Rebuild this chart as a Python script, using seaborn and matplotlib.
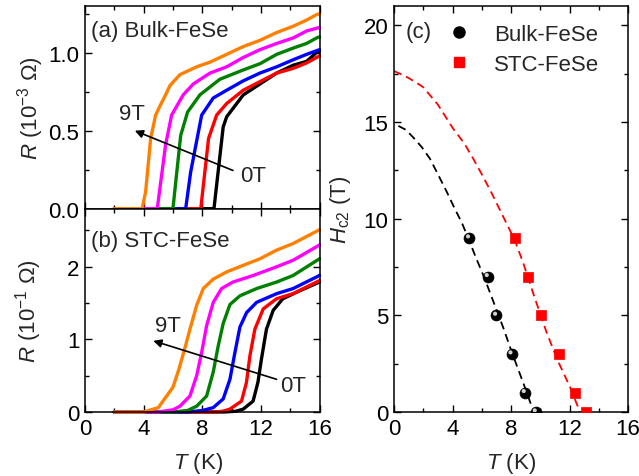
import numpy as np
import pandas as pd
import matplotlib
matplotlib.use("Agg")
import matplotlib.pyplot as plt
import matplotlib.transforms as mtransforms
from matplotlib.lines import Line2D
from matplotlib.ticker import MultipleLocator, FormatStrFormatter
import seaborn as sns

# ---------------- data ----------------
fields = ["0T", "1T", "3T", "5T", "7T", "9T"]
colors = ["#000000", "#FF0000", "#0000FF", "#008000", "#FF00FF", "#FF8000"]

# (a) Bulk-FeSe, R in 1e-3 Ohm
bulk_T_0T = [2.0, 8.8, 9.43, 9.67, 10.8, 11.94, 13.08, 14.2, 15.12, 15.9, 16.0]
bulk_R_0T = [0, 0, 0.525, 0.59, 0.73, 0.80, 0.87, 0.92, 0.945, 1.01, 1.01]
bulk_T_1T = [2.0, 7.9, 8.43, 8.98, 9.67, 10.8, 11.94, 13.08, 14.2, 15.12, 15.9, 16.0]
bulk_R_1T = [0, 0, 0.45, 0.60, 0.675, 0.76, 0.815, 0.87, 0.90, 0.935, 0.975, 0.98]
bulk_T_3T = [2.0, 6.87, 7.21, 7.96, 8.75, 9.67, 10.8, 11.94, 13.08, 14.2, 15.12, 16.0]
bulk_R_3T = [0, 0, 0.235, 0.60, 0.71, 0.76, 0.82, 0.87, 0.91, 0.955, 0.99, 1.02]
bulk_T_5T = [2.0, 6.0, 6.53, 7.0, 7.84, 9.2, 10.8, 11.94, 13.08, 14.2, 15.12, 15.9, 16.0]
bulk_R_5T = [0, 0, 0.47, 0.62, 0.73, 0.83, 0.89, 0.93, 0.99, 1.03, 1.06, 1.10, 1.10]
bulk_T_7T = [2.0, 4.93, 5.5, 5.91, 6.7, 7.39, 8.53, 9.67, 10.8, 11.94, 13.08, 14.2, 15.12, 15.9, 16.0]
bulk_R_7T = [0, 0, 0.41, 0.60, 0.73, 0.80, 0.87, 0.91, 0.97, 1.02, 1.06, 1.095, 1.14, 1.16, 1.16]
bulk_T_9T = [2.0, 3.9, 4.14, 4.48, 4.82, 5.12, 5.5, 5.8, 6.48, 7.62, 8.53, 9.67, 10.8, 11.94, 13.08, 14.2, 15.12, 15.8, 16.0]
bulk_R_9T = [0, 0, 0.11, 0.45, 0.60, 0.66, 0.73, 0.79, 0.86, 0.91, 0.94, 0.99, 1.04, 1.08, 1.13, 1.17, 1.21, 1.245, 1.25]

# (b) STC-FeSe, R in 1e-1 Ohm
stc_T_0T = [2.0, 9.5, 10.3, 10.8, 11.47, 11.8, 12.04, 12.38, 12.84, 13.5, 14.66, 16.0]
stc_R_0T = [0, 0, 0.01, 0.04, 0.15, 0.41, 0.73, 1.14, 1.40, 1.56, 1.67, 1.79]
stc_T_1T = [2.0, 8.8, 9.4, 9.89, 10.68, 11.02, 11.25, 11.59, 12.16, 13.07, 14.2, 16.0]
stc_R_1T = [0, 0, 0.01, 0.04, 0.15, 0.41, 0.77, 1.14, 1.42, 1.56, 1.63, 1.81]
stc_T_3T = [2.0, 7.0, 8.0, 8.75, 9.43, 9.89, 10.23, 10.57, 11.03, 11.71, 13.08, 14.2, 16.0]
stc_R_3T = [0, 0, 0.02, 0.06, 0.18, 0.45, 0.82, 1.17, 1.37, 1.51, 1.63, 1.70, 1.88]
stc_T_5T = [2.0, 6.0, 7.0, 7.62, 8.3, 8.75, 9.09, 9.43, 9.89, 10.57, 11.71, 13.08, 14.2, 16.0]
stc_R_5T = [0, 0, 0.02, 0.08, 0.22, 0.55, 0.91, 1.22, 1.48, 1.60, 1.70, 1.79, 1.88, 2.11]
stc_T_7T = [2.0, 5.0, 6.0, 6.48, 7.16, 7.62, 7.96, 8.3, 8.75, 9.32, 10.1, 11.48, 13.08, 14.2, 16.0]
stc_R_7T = [0, 0, 0.03, 0.08, 0.22, 0.50, 0.82, 1.19, 1.51, 1.70, 1.79, 1.88, 2.0, 2.09, 2.30]
stc_T_9T = [2.0, 4.0, 5.0, 5.5, 6.0, 6.41, 6.87, 7.16, 7.62, 8.07, 8.75, 9.67, 10.8, 11.94, 13.08, 14.2, 16.0]
stc_R_9T = [0, 0, 0.06, 0.2, 0.34, 0.59, 0.92, 1.14, 1.47, 1.70, 1.83, 1.93, 2.02, 2.11, 2.23, 2.32, 2.51]

# (c) Hc2 vs T
hc2_bulk_T = [5.15, 6.43, 7.0, 8.05, 8.96, 9.71]
hc2_bulk_H = [9, 7, 5, 3, 1, 0]
hc2_stc_T = [8.25, 9.14, 10.07, 11.28, 12.35, 13.13]
hc2_stc_H = [9, 7, 5, 3, 1, 0]
fit_bulk_T = [0.3, 0.8, 1.32, 1.9, 2.46, 3.0, 3.6, 4.1, 4.63, 5.1, 5.54, 6.2, 6.9, 7.5, 8.05, 8.84, 9.41]
fit_bulk_H = [14.8, 14.6, 14.2, 13.7, 13.1, 12.3, 11.4, 10.6, 9.8, 8.95, 8.1, 6.9, 5.5, 4.3, 3.1, 1.5, 0.3]
fit_stc_T = [0.0, 0.87, 1.5, 2.0, 3.0, 4.05, 4.8, 5.42, 6.0, 6.56, 7.47, 8.25, 8.84, 9.6, 10.44, 11.2, 12.03, 12.72]
fit_stc_H = [17.64, 17.33, 17.05, 16.8, 15.9, 14.65, 13.9, 13.1, 12.3, 11.5, 10.1, 8.9, 7.7, 5.95, 4.1, 2.65, 1.3, 0.0]

bulk_T = [bulk_T_0T, bulk_T_1T, bulk_T_3T, bulk_T_5T, bulk_T_7T, bulk_T_9T]
bulk_R = [bulk_R_0T, bulk_R_1T, bulk_R_3T, bulk_R_5T, bulk_R_7T, bulk_R_9T]
stc_T = [stc_T_0T, stc_T_1T, stc_T_3T, stc_T_5T, stc_T_7T, stc_T_9T]
stc_R = [stc_R_0T, stc_R_1T, stc_R_3T, stc_R_5T, stc_R_7T, stc_R_9T]


def long_frame(Ts, Rs):
    rows = []
    for f, t, r in zip(fields, Ts, Rs):
        for a, b in zip(t, r):
            rows.append((f, a, b))
    return pd.DataFrame(rows, columns=["field", "T", "R"])


df_a = long_frame(bulk_T, bulk_R)
df_b = long_frame(stc_T, stc_R)

# ---------------- style ----------------
sns.set_style("ticks")
plt.rcParams["font.family"] = ["Liberation Sans", "DejaVu Sans"]
plt.rcParams["mathtext.fontset"] = "custom"
plt.rcParams["mathtext.rm"] = "Liberation Sans"
plt.rcParams["mathtext.it"] = "Liberation Sans:italic"
plt.rcParams["axes.linewidth"] = 1.1
plt.rcParams["axes.edgecolor"] = "black"

FS = 16

fig = plt.figure(figsize=(6.39, 4.77), dpi=100)
ax_a = fig.add_axes([0.133, 0.5604, 0.367, 0.4249])
ax_b = fig.add_axes([0.133, 0.1342, 0.367, 0.4262])
ax_c = fig.add_axes([0.6166, 0.1342, 0.3662, 0.8511])

for ax, df in ((ax_a, df_a), (ax_b, df_b)):
    sns.lineplot(data=df, x="T", y="R", hue="field", hue_order=fields,
                 palette=colors, estimator=None, sort=False, lw=2.4,
                 legend=False, ax=ax)
    for ln in ax.get_lines():
        ln.set_clip_on(False)
        ln.set_solid_joinstyle("round")


def style_axis(ax):
    ax.tick_params(which="both", direction="in", top=True, right=True,
                   colors="black", labelsize=FS, width=1.0)
    ax.tick_params(which="major", length=5, pad=4)
    ax.tick_params(which="minor", length=3)
    for s in ax.spines.values():
        s.set_visible(True)
        s.set_color("black")


# panel (a)
ax_a.set_xlim(0, 16)
ax_a.set_ylim(0, 1.3)
ax_a.xaxis.set_major_locator(MultipleLocator(4))
ax_a.xaxis.set_minor_locator(MultipleLocator(2))
ax_a.yaxis.set_major_locator(MultipleLocator(0.5))
ax_a.yaxis.set_minor_locator(MultipleLocator(0.25))
ax_a.yaxis.set_major_formatter(FormatStrFormatter("%.1f"))
style_axis(ax_a)
ax_a.tick_params(labelbottom=False)
ax_a.set_xlabel("")
ax_a.set_ylabel(r"$R$ (10$^{-3}$ Ω)", fontsize=FS)
ax_a.yaxis.set_label_coords(-0.165, 0.5)
ax_a.text(0.39, 1.14, "(a) Bulk-FeSe", fontsize=FS, va="center", ha="left")
ax_a.annotate("", xy=(3.4, 0.50), xytext=(10.1, 0.245),
              arrowprops=dict(arrowstyle="-|>", color="black", lw=1.2,
                              mutation_scale=12, shrinkA=0, shrinkB=0))
ax_a.text(3.18, 0.61, "9T", fontsize=FS, ha="center", va="center")
ax_a.text(11.5, 0.21, "0T", fontsize=FS, ha="center", va="center")

# panel (b)
ax_b.set_xlim(0, 16)
ax_b.set_ylim(0, 2.8)
ax_b.xaxis.set_major_locator(MultipleLocator(4))
ax_b.xaxis.set_minor_locator(MultipleLocator(2))
ax_b.yaxis.set_major_locator(MultipleLocator(1))
ax_b.yaxis.set_minor_locator(MultipleLocator(0.5))
style_axis(ax_b)
ax_b.set_ylabel(r"$R$ (10$^{-1}$ Ω)", fontsize=FS)
ax_b.yaxis.set_label_coords(-0.175, 0.5)
ax_b.set_xlabel(r"$T$ (K)", fontsize=FS)
ax_b.xaxis.set_label_coords(0.48, -0.185)
ax_b.text(0.39, 2.36, "(b) STC-FeSe", fontsize=FS, va="center", ha="left")
ax_b.annotate("", xy=(4.66, 0.98), xytext=(13.07, 0.45),
              arrowprops=dict(arrowstyle="-|>", color="black", lw=1.2,
                              mutation_scale=12, shrinkA=0, shrinkB=0))
ax_b.text(5.68, 1.19, "9T", fontsize=FS, ha="center", va="center")
ax_b.text(14.2, 0.36, "0T", fontsize=FS, ha="center", va="center")

# panel (c)
dash = (0, (4.5, 2.8))
sns.lineplot(x=fit_bulk_T, y=fit_bulk_H, color="black", lw=1.3, ls=dash,
             estimator=None, sort=False, ax=ax_c)
sns.lineplot(x=fit_stc_T, y=fit_stc_H, color="#FF0000", lw=1.3, ls=dash,
             estimator=None, sort=False, ax=ax_c)
sns.scatterplot(x=hc2_bulk_T, y=hc2_bulk_H, color="black", marker="o", s=62,
                edgecolor="black", linewidth=0.5, zorder=3, ax=ax_c)
hl = mtransforms.offset_copy(ax_c.transData, fig=fig, x=-1.3, y=1.6, units="dots")
ax_c.scatter(hc2_bulk_T, hc2_bulk_H, s=9, color="#d0d0d0", edgecolor="none",
             transform=hl, zorder=4)
sns.scatterplot(x=hc2_stc_T, y=hc2_stc_H, color="#FF0000", marker="s", s=58,
                edgecolor="#FF0000", linewidth=0.5, zorder=3, ax=ax_c)
ax_c.set_xlim(0, 16)
ax_c.set_ylim(0, 21)
ax_c.xaxis.set_major_locator(MultipleLocator(4))
ax_c.xaxis.set_minor_locator(MultipleLocator(2))
ax_c.yaxis.set_major_locator(MultipleLocator(5))
ax_c.yaxis.set_minor_locator(MultipleLocator(2.5))
style_axis(ax_c)
ax_c.set_xlabel(r"$T$ (K)", fontsize=FS)
ax_c.xaxis.set_label_coords(0.5, -0.093)
ax_c.set_ylabel(r"$H_{\rm c2}$ (T)", fontsize=FS)
ax_c.yaxis.set_label_coords(-0.175, 0.5)
ax_c.text(0.82, 19.67, "(c)", fontsize=FS, ha="left", va="center")

handles = [Line2D([], [], ls="none", marker="o", color="black", ms=8),
           Line2D([], [], ls="none", marker="s", color="#FF0000", ms=7.5)]
ax_c.legend(handles, ["Bulk-FeSe", "STC-FeSe"], loc="upper left",
            bbox_to_anchor=(0.17, 0.978), frameon=False, fontsize=FS,
            handlelength=1.5, handletextpad=0.8, labelspacing=0.4,
            borderaxespad=0)

fig.savefig("out.png", dpi=100)
